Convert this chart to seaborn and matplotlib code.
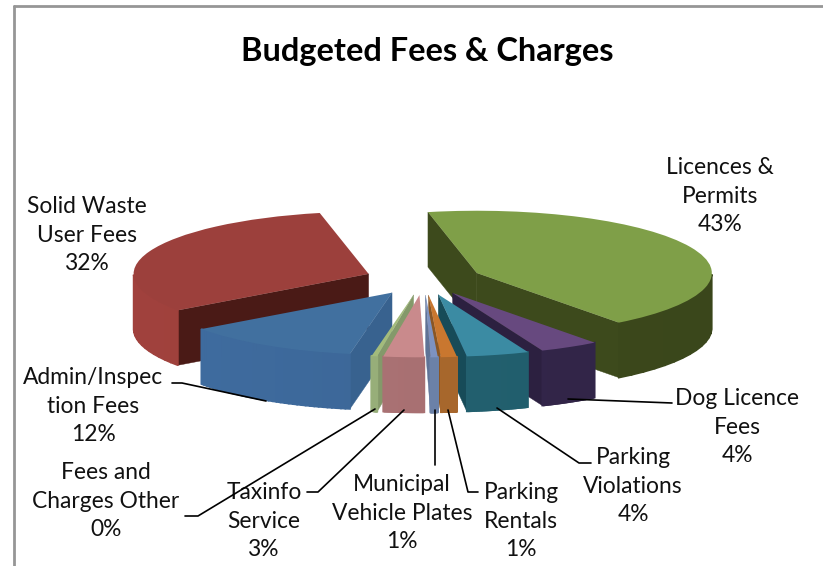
import numpy as np
import seaborn as sns
import matplotlib
matplotlib.use('Agg')
import matplotlib.pyplot as plt
from matplotlib.colors import to_rgb

# slice values (percent)
categories = ['Licences & Permits', 'Dog Licence Fees', 'Parking Violations', 'Parking Rentals',
              'Municipal Vehicle Plates', 'Taxinfo Service', 'Fees and Charges Other',
              'Admin/Inspection Fees', 'Solid Waste User Fees']
values = [43, 4.1, 4.3, 1.1, 0.5, 2.8, 0.4, 12.2, 31.6]

# top, outer wall, cut wall
top_colors = ['#7f9f48', '#67497f', '#3b8ba3', '#c9772f', '#7d92c0', '#c98a8c', '#a3bb7c', '#41709f', '#9c403c']
arc_colors = ['#3d4a1c', '#33264a', '#22606f', '#a8672c', '#6b81a8', '#a87072', '#96ad78', '#3c6798', '#993e3a']
cut_colors = ['#3d4a1c', '#2c2040', '#174b58', '#8a5624', '#5f7396', '#8f6062', '#84996a', '#38628f', '#4a1a16']

W, H = 823, 566
cx, cy = 423.4, 279.5   # pie centre in pixels
R = 235.0               # pixels per unit radius
k = 0.265               # squash of the tilted pie
depth = 55.0            # wall height in pixels

sns.set_theme(style='white')
plt.rcParams['font.family'] = ['Lato', 'DejaVu Sans']

fig = plt.figure(figsize=(W / 100, H / 100), dpi=100)
ax = fig.add_axes([0, 0, 1, 1])

wedges, _ = ax.pie(values, colors=top_colors, startangle=102, counterclock=False,
                   explode=[0.25] * len(values), wedgeprops={'linewidth': 0})

ax.set_aspect('auto')
ax.set_xlim(-cx / R, (W - cx) / R)
ax.set_ylim(-(H - cy) / (R * k), cy / (R * k))
ax.axis('off')
drop = depth / (R * k)


def px(x, y):
    return (x - cx) / R, (cy - y) / (R * k)


def shade(color, f):
    return tuple(min(1, c * f) for c in to_rgb(color))


# walls are built from what pie() returned, painted back to front
for i, w in enumerate(wedges):
    mid = np.radians((w.theta1 + w.theta2) / 2)
    z = 10 - 5 * np.sin(mid)
    w.set_zorder(z + 0.5)
    x0, y0 = w.center

    for a, visible in ((w.theta2, np.cos(np.radians(w.theta2)) < 0),
                       (w.theta1, np.cos(np.radians(w.theta1)) > 0)):
        if visible:
            ex = x0 + np.cos(np.radians(a))
            ey = y0 + np.sin(np.radians(a))
            ax.fill([x0, ex, ex, x0], [y0, ey, ey - drop, y0 - drop],
                    color=cut_colors[i], linewidth=0.3, zorder=z)

    t = np.radians(np.linspace(w.theta1, w.theta2, 40))
    for a, b in zip(t[:-1], t[1:]):
        if np.sin((a + b) / 2) > 0:
            continue
        xa, xb = x0 + np.cos(a), x0 + np.cos(b)
        ya, yb = y0 + np.sin(a), y0 + np.sin(b)
        # lighter toward the left of the wall
        f = 1.0 - 0.05 * np.cos((a + b) / 2)
        ax.fill([xa, xb, xb, xa], [ya, yb, yb - drop, ya - drop],
                color=shade(arc_colors[i], f), linewidth=1.2, zorder=z + 0.1)

# chart frame, only top and left are in the crop
frame_color = '#969696'
for a, b in (((14, 6), (14, 566)), ((14, 6), (823, 6))):
    ax.plot(*zip(px(*a), px(*b)), color=frame_color, lw=2, zorder=1)

# labels
text_color = '#111111'
ax.text(*px(427, 52), 'Budgeted Fees & Charges', ha='center', va='center',
        fontsize=23.4, fontweight='bold', color='black', zorder=30)

labels = [
    ('Licences &\nPermits\n43%', 720, 196),
    ('Solid Waste\nUser Fees\n32%', 87, 235),
    ('Admin/Inspec\ntion Fees\n12%', 93, 406),
    ('Fees and\nCharges Other\n0%', 106, 501),
    ('Taxinfo\nService\n3%', 264, 521),
    ('Municipal\nVehicle Plates\n1%', 402, 513),
    ('Parking\nRentals\n1%', 521, 521),
    ('Parking\nViolations\n4%', 633, 486),
    ('Dog Licence\nFees\n4%', 737, 427),
]
for txt, x, y in labels:
    ax.text(*px(x, y), txt, ha='center', va='center', fontsize=16.4, color=text_color,
            linespacing=1.47, zorder=30)

# leader lines
leaders = [
    [(172, 383), (182, 383), (266, 401)],
    [(185, 516), (198, 516), (375, 409)],
    [(307, 492), (318, 492), (404, 410)],
    [(435, 465), (435, 410)],
    [(478, 492), (468, 492), (448, 410)],
    [(591, 463), (579, 463), (497, 408)],
    [(672, 403), (568, 399)],
]
for pts in leaders:
    xs, ys = zip(*[px(*p) for p in pts])
    ax.plot(xs, ys, color='black', lw=1.2, zorder=31)

fig.savefig('out.png', dpi=100, facecolor='white')
plt.close()
